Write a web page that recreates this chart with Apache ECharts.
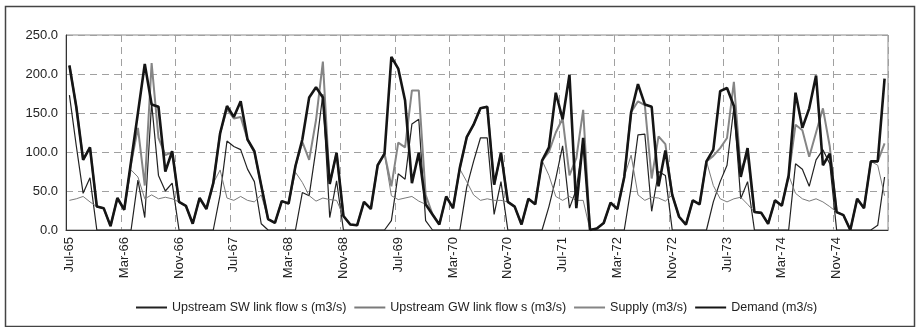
<!DOCTYPE html>
<html>
<head>
<meta charset="utf-8">
<script src="https://cdn.jsdelivr.net/npm/echarts@6/dist/echarts.min.js"></script>
<style>
html,body{margin:0;padding:0;background:#fff;}
#chart{width:916px;height:327px;}
</style>
</head>
<body>
<div id="chart"></div>
<script>
// Monthly series Jul-65 .. Jun-75
const monthNames = ['Jan','Feb','Mar','Apr','May','Jun','Jul','Aug','Sep','Oct','Nov','Dec'];
const startMonth = 6, startYear = 65, monthCount = 120;

const swFlow = [
  173,108,47,67,0,0,0,0,0,0,
  64,16,163,70,50,60,0,0,0,0,
  0,0,45,114,107,103,78,62,8,0,
  0,0,0,0,48,44,104,174,16,63,
  0,0,0,0,0,0,0,12,72,65,
  136,142,12,0,0,0,0,0,55,88,
  118,118,20,62,0,0,0,0,0,0,
  30,66,108,28,52,116,0,0,0,0,
  0,0,55,122,123,24,75,70,0,0,
  0,0,0,0,36,62,83,157,40,62,
  0,0,0,0,0,0,85,78,56,90,
  103,85,0,0,0,0,0,0,6,68
];
const gwFlow = [
  38,40,43,36,30,28,5,41,26,77,
  68,40,45,40,42,40,36,31,8,41,
  27,60,77,41,38,43,38,36,45,14,
  9,37,34,74,61,44,37,41,39,38,
  18,7,6,36,27,83,97,44,39,41,
  43,37,33,20,7,43,28,78,62,45,
  38,40,38,38,36,30,7,40,33,89,
  70,43,38,43,38,38,0,2,9,35,
  27,68,96,45,38,42,41,37,45,17,
  7,38,33,88,57,40,36,40,42,33,
  23,22,8,38,31,70,47,40,37,40,
  36,30,23,19,0,40,28,88,83,44
];
const supply = [
  211,158,90,106,30,28,5,41,26,85,
  131,57,214,118,96,100,36,31,8,41,
  27,60,124,155,143,145,116,100,57,14,
  9,37,34,82,113,90,141,216,59,99,
  18,7,6,36,27,83,98,56,112,106,
  179,179,45,20,7,43,28,80,119,135,
  156,158,58,99,36,30,7,40,33,89,
  100,125,143,70,92,154,0,2,9,35,
  27,68,151,165,160,66,120,110,45,17,
  7,38,33,88,95,105,118,190,77,96,
  23,22,8,38,31,70,135,128,94,125,
  156,107,23,19,0,40,28,88,88,111
];
const demand = [
  211,158,90,106,30,28,5,41,26,88,
  150,213,161,158,75,101,36,31,8,41,
  27,60,124,159,145,165,116,101,57,14,
  9,37,34,82,116,170,183,170,59,99,
  18,7,6,36,27,83,98,222,207,166,
  60,99,33,20,7,43,28,80,119,135,
  156,158,58,99,36,30,7,40,33,89,
  106,176,142,199,28,118,0,2,9,35,
  27,68,151,187,161,158,56,102,45,17,
  7,38,33,88,103,178,182,159,68,105,
  23,22,8,38,31,70,176,131,156,198,
  83,98,23,19,0,40,28,88,88,194
];
const seriesNames = ['Upstream SW link flow s (m3/s)','Upstream GW link flow s (m3/s)','Supply (m3/s)','Demand (m3/s)'];

const categories = [];
for (let k = 0; k < monthCount; k++) {
  const m = startMonth + k;
  categories.push(monthNames[m % 12] + '-' + (startYear + Math.floor(m / 12)));
}

const FONT = '"Liberation Sans", Arial, sans-serif';
const chart = echarts.init(document.getElementById('chart'), null, {renderer:'canvas'});
chart.setOption({
  animation: false,
  backgroundColor: '#fff',
  graphic: [{
    type: 'rect', left: 3, top: 4, z: -1,
    shape: {width: 909, height: 320},
    style: {fill: 'none', stroke: '#444', lineWidth: 1.5}
  }],
  grid: {left: 66, right: 28, top: 35, bottom: 97, show: true, borderColor: '#8a8a8a', borderWidth: 1, containLabel: false},
  legend: {
    top: 301, left: 135, padding: 0,
    itemWidth: 31, itemHeight: 2, itemGap: 7,
    itemStyle: {opacity: 0},
    textStyle: {fontFamily: FONT, fontSize: 12.5, color: '#222'},
    data: seriesNames
  },
  xAxis: {
    type: 'category', data: categories, boundaryGap: true,
    axisLine: {lineStyle: {color: '#333', width: 1}},
    axisTick: {show: false},
    axisLabel: {interval: 7, rotate: 90, margin: 7, fontFamily: FONT, fontSize: 13, color: '#222'},
    splitLine: {show: true, interval: 7, lineStyle: {color: '#a0a0a0', type: [7,5], width: 1}}
  },
  yAxis: {
    type: 'value', min: 0, max: 250, interval: 50,
    axisLine: {show: true, lineStyle: {color: '#333', width: 1}},
    axisTick: {show: false},
    axisLabel: {fontFamily: FONT, fontSize: 13, color: '#222', margin: 8, formatter: v => v.toFixed(1)},
    splitLine: {show: true, lineStyle: {color: '#a0a0a0', type: [7,5], width: 1}}
  },
  series: [
    {name: seriesNames[0], type: 'line', data: swFlow, symbol: 'none', lineStyle: {color: '#222', width: 1.2}, itemStyle: {color: '#222'}},
    {name: seriesNames[1], type: 'line', data: gwFlow, symbol: 'none', lineStyle: {color: '#7a7a7a', width: 1}, itemStyle: {color: '#7a7a7a'}},
    {name: seriesNames[2], type: 'line', data: supply, symbol: 'none', lineStyle: {color: '#858585', width: 2}, itemStyle: {color: '#858585'}},
    {name: seriesNames[3], type: 'line', data: demand, symbol: 'none', lineStyle: {color: '#151515', width: 2.6}, itemStyle: {color: '#151515'}}
  ]
});
</script>
</body>
</html>
